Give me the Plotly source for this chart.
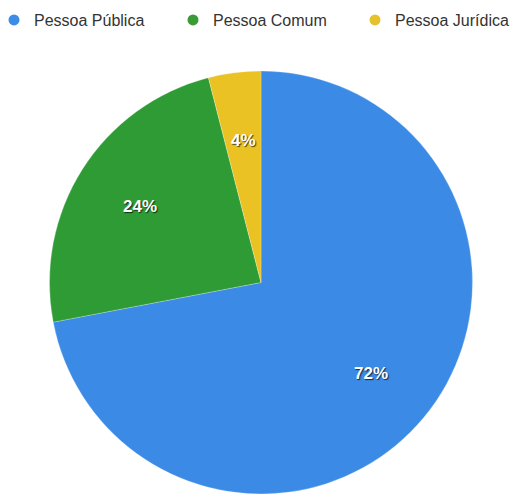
import math
import plotly.graph_objects as go

labels = ["Pessoa Pública", "Pessoa Comum", "Pessoa Jurídica"]
values = [72, 24, 4]
colors = ["#3a8ae6", "#2f9b35", "#ebc223"]
legend_colors = ["#3d8ce8", "#3a9a36", "#e6c12e"]

W, H = 510, 494
dom_x = [49.5 / W, 472.5 / W]
dom_y = [0, 423 / H]

fig = go.Figure()

fig.add_trace(go.Pie(
    labels=labels, values=values, sort=False, direction="clockwise", rotation=0,
    marker=dict(colors=colors, line=dict(color="rgba(255,255,255,0.5)", width=0.5)),
    textinfo="none",
    showlegend=False, hoverinfo="label+percent",
    domain=dict(x=dom_x, y=dom_y),
))

# percentage labels placed at each slice's mid-angle, computed from the data
total = sum(values)
cx = (dom_x[0] + dom_x[1]) / 2
cy = (dom_y[0] + dom_y[1]) / 2
R_px = min((dom_x[1] - dom_x[0]) * W, (dom_y[1] - dom_y[0]) * H) / 2
r_frac = 0.675
cum = 0
for v in values:
    mid = (cum + v / 2) / total * 2 * math.pi
    cum += v
    ax = cx + r_frac * R_px * math.sin(mid) / W
    ay = cy + r_frac * R_px * math.cos(mid) / H
    fig.add_annotation(
        x=ax, y=ay, xref="paper", yref="paper", showarrow=False,
        xanchor="center", yanchor="middle",
        text=f"{round(v / total * 100)}%",
        font=dict(family="Liberation Sans, Arial", size=17, color="white", weight="bold",
                  shadow="1px 1px 1px rgba(0,0,0,0.7)"),
    )

legend_x = [14, 193, 375]
legend_names = ["legend", "legend2", "legend3"]
for name, col, lg in zip(labels, legend_colors, legend_names):
    fig.add_trace(go.Scatter(x=[None], y=[None], mode="markers", name=name,
                             marker=dict(color=col, size=11, symbol="circle"),
                             legend=lg, showlegend=True))

common_leg = dict(orientation="h", yanchor="middle", xanchor="left", y=1 - 20 / H,
                  font=dict(family="Liberation Sans, Arial", size=16, color="#333333"),
                  bgcolor="rgba(0,0,0,0)", itemwidth=30)
layout_legends = {}
for lg, lx in zip(legend_names, legend_x):
    layout_legends[lg] = dict(common_leg, x=(lx - 20) / W)

fig.update_layout(
    width=W, height=H, margin=dict(l=0, r=0, t=0, b=0, autoexpand=False),
    paper_bgcolor="white", plot_bgcolor="white",
    xaxis=dict(visible=False), yaxis=dict(visible=False),
    **layout_legends,
)

fig.write_html("out.html")
